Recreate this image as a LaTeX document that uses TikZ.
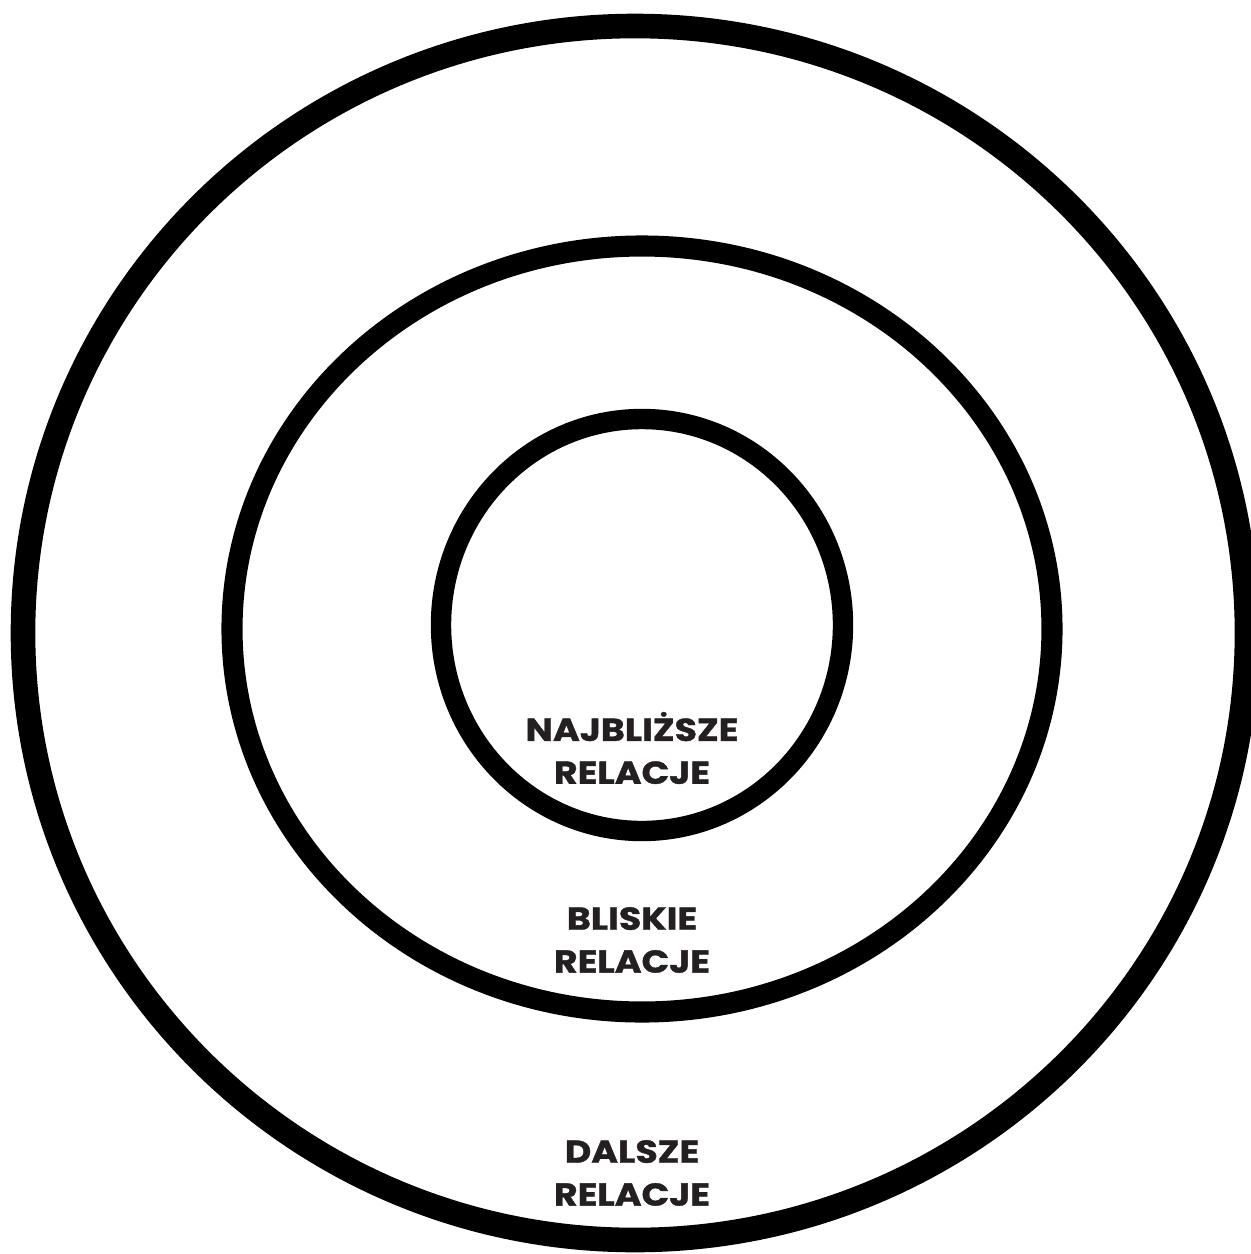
\documentclass[tikz,border=0pt]{standalone}
\usepackage{fontspec}
\setmainfont{Poppins}[BoldFont={* Bold},BoldFeatures={FakeStretch=1.15,FakeBold=1.2}]
\usetikzlibrary{calc}
\definecolor{RingClr}{rgb}{0,0,0}
\definecolor{TextClr}{rgb}{0.14,0.12,0.13}

\tikzset{
  ring/.style={line width=#1,color=RingClr},
  ringlabel/.style={font=\fontsize{9}{12.2}\selectfont\bfseries,text=TextClr,align=center,inner sep=0pt}
}

\begin{document}
\begin{tikzpicture}[x=0.01cm,y=-0.01cm]
\useasboundingbox (0,0) rectangle (1250,1254);

\coordinate (O1) at (635,633);
\coordinate (O2) at (642,629);
\coordinate (O3) at (642,625);

% rings
\draw[ring=7pt] (O1) ellipse [x radius=612,y radius=607];
\draw[ring=6pt] (O2) ellipse [x radius=410,y radius=383];
\draw[ring=5.8pt] (O3) ellipse [x radius=201,y radius=206];

% labels
\node[ringlabel] (najblizsze) at (632,748) {NAJBLIŻSZE\\RELACJE};
\node[ringlabel] (bliskie) at (632,940) {BLISKIE\\RELACJE};
\node[ringlabel] (dalsze) at (632,1173) {DALSZE\\RELACJE};

\end{tikzpicture}
\end{document}
